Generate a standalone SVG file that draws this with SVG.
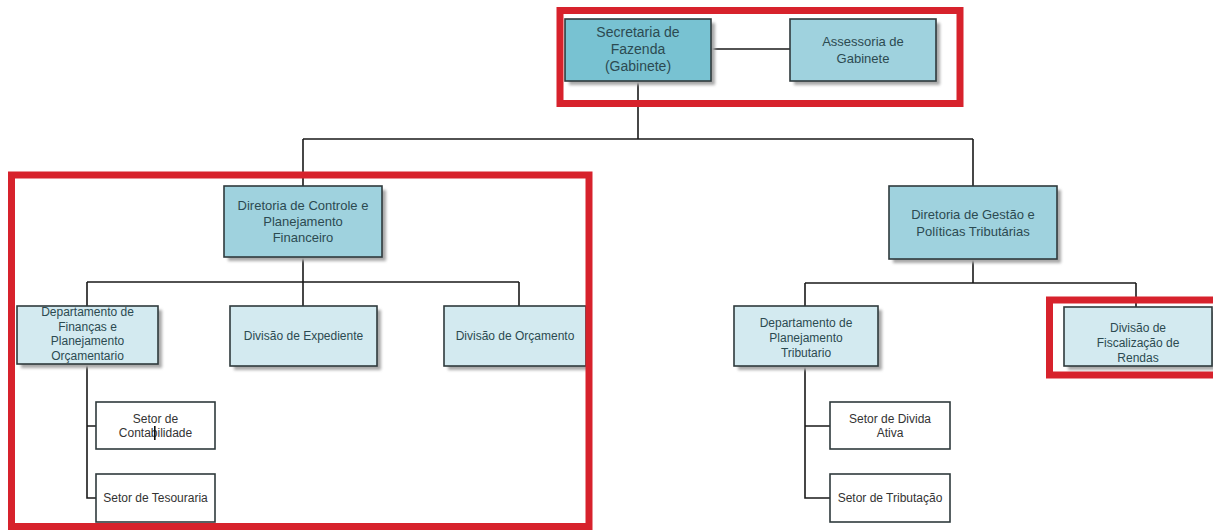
<svg xmlns="http://www.w3.org/2000/svg" width="1213" height="531" viewBox="0 0 1213 531">
  <defs>
    <filter id="soft" x="-10%" y="-10%" width="130%" height="130%">
      <feGaussianBlur stdDeviation="1.6"/>
    </filter>
  </defs>
  <style>
    .shadow { fill: #a8a8a8; filter: url(#soft); }
    .box { stroke: #2f3a3c; stroke-width: 1.6; }
    .dark { fill: #78c2d2; }
    .mid { fill: #9fd2de; }
    .light { fill: #d3eaf0; }
    .plain { fill: #ffffff; }
    .t { font-family: "Liberation Sans", Arial, sans-serif; text-anchor: middle; fill: #2c4a51; }
    .t14 { font-size: 14px; }
    .t13 { font-size: 13px; }
    .t12 { font-size: 12px; }
    .g { fill: #333333; }
    .link { fill: none; stroke: #1a1a1a; stroke-width: 1.6; }
    .hl { fill: none; stroke: #d7222c; stroke-width: 7; }
  </style>

  <rect width="1213" height="531" fill="#ffffff"/>

  <!-- connectors -->
  <g id="connectors">
    <path class="link" d="M711 49 H790"/>
    <path class="link" d="M638 81 V139 M303 139 H973 M303 139 V186 M973 139 V186"/>
    <path class="link" d="M303 257 V282 M87 282 H519 M87 282 V306 M303 282 V306 M519 282 V306"/>
    <path class="link" d="M973 259 V283 M805 283 H1136 M805 283 V306 M1136 283 V307"/>
    <path class="link" d="M87 364 V498 H96 M87 426 H96"/>
    <path class="link" d="M805 366 V498 H830 M805 426 H830"/>
  </g>

  <g id="secretaria">
    <rect class="shadow" x="569" y="23" width="146" height="62"/>
    <rect class="box dark" x="565" y="19" width="146" height="62"/>
    <text class="t t14" x="638" y="37">Secretaria de</text>
    <text class="t t14" x="638" y="54">Fazenda</text>
    <text class="t t14" x="638" y="71">(Gabinete)</text>
  </g>

  <g id="assessoria">
    <rect class="shadow" x="794" y="23" width="146" height="62"/>
    <rect class="box mid" x="790" y="19" width="146" height="62"/>
    <text class="t t13" x="863" y="46">Assessoria de</text>
    <text class="t t13" x="863" y="63">Gabinete</text>
  </g>

  <g id="dir-controle">
    <rect class="shadow" x="228" y="190" width="158" height="71"/>
    <rect class="box mid" x="224" y="186" width="158" height="71"/>
    <text class="t t13" x="303" y="210">Diretoria de Controle e</text>
    <text class="t t13" x="303" y="226">Planejamento</text>
    <text class="t t13" x="303" y="242">Financeiro</text>
  </g>

  <g id="dir-gestao">
    <rect class="shadow" x="893" y="190" width="168" height="73"/>
    <rect class="box mid" x="889" y="186" width="168" height="73"/>
    <text class="t t13" x="973" y="219">Diretoria de Gestão e</text>
    <text class="t t13" x="973" y="236">Políticas Tributárias</text>
  </g>

  <g id="dep-financas">
    <rect class="shadow" x="21" y="310" width="141" height="58"/>
    <rect class="box light" x="17" y="306" width="141" height="58"/>
    <text class="t t12" x="87.5" y="316">Departamento de</text>
    <text class="t t12" x="87.5" y="331">Finanças e</text>
    <text class="t t12" x="87.5" y="345">Planejamento</text>
    <text class="t t12" x="87.5" y="360">Orçamentario</text>
  </g>

  <g id="div-expediente">
    <rect class="shadow" x="234" y="310" width="147" height="60"/>
    <rect class="box light" x="230" y="306" width="147" height="60"/>
    <text class="t t12" x="303.5" y="340">Divisão de Expediente</text>
  </g>

  <g id="div-orcamento">
    <rect class="shadow" x="448" y="310" width="142" height="60"/>
    <rect class="box light" x="444" y="306" width="142" height="60"/>
    <text class="t t12" x="515" y="340">Divisão de Orçamento</text>
  </g>

  <g id="dep-planejamento">
    <rect class="shadow" x="738" y="310" width="144" height="60"/>
    <rect class="box light" x="734" y="306" width="144" height="60"/>
    <text class="t t12" x="806" y="327">Departamento de</text>
    <text class="t t12" x="806" y="342">Planejamento</text>
    <text class="t t12" x="806" y="357">Tributario</text>
  </g>

  <g id="div-fiscalizacao">
    <rect class="shadow" x="1068" y="311" width="148" height="59"/>
    <rect class="box light" x="1064" y="307" width="148" height="59"/>
    <text class="t t12" x="1138" y="332">Divisão de</text>
    <text class="t t12" x="1138" y="347">Fiscalização de</text>
    <text class="t t12" x="1138" y="362">Rendas</text>
  </g>

  <g id="setor-contabilidade">
    <rect class="box plain" x="96" y="402" width="119" height="47"/>
    <text class="t t12 g" x="155.5" y="423">Setor de</text>
    <text class="t t12 g" x="155.5" y="437">Contabilidade</text>
    <rect x="154" y="426" width="1.6" height="14" fill="#111"/>
  </g>

  <g id="setor-tesouraria">
    <rect class="box plain" x="96" y="474" width="119" height="48"/>
    <text class="t t12 g" x="155.5" y="502">Setor de Tesouraria</text>
  </g>

  <g id="setor-divida">
    <rect class="box plain" x="830" y="402" width="120" height="47"/>
    <text class="t t12 g" x="890" y="423">Setor de Divida</text>
    <text class="t t12 g" x="890" y="437">Ativa</text>
  </g>

  <g id="setor-tributacao">
    <rect class="box plain" x="830" y="474" width="120" height="48"/>
    <text class="t t12 g" x="890" y="502">Setor de Tributação</text>
  </g>

  <!-- highlight frames, drawn over the boxes -->
  <g id="highlights">
    <rect class="hl" x="560" y="10.5" width="400" height="93"/>
    <rect class="hl" x="11.5" y="175" width="577.5" height="351.5"/>
    <rect class="hl" x="1049.5" y="300" width="172" height="75"/>
  </g>
</svg>
